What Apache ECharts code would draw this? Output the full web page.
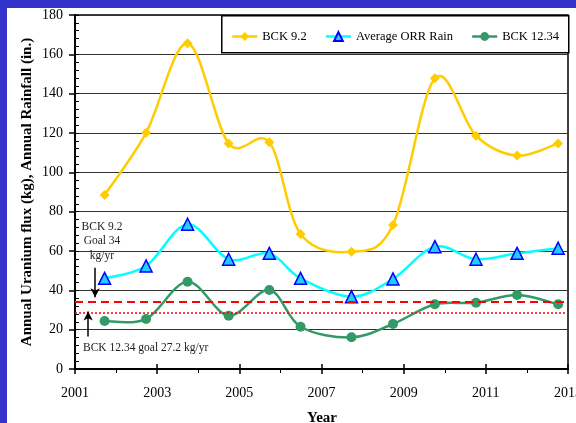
<!DOCTYPE html>
<html>
<head>
<meta charset="utf-8">
<script src="https://cdn.jsdelivr.net/npm/echarts@6/dist/echarts.min.js"></script>
<style>
html,body{margin:0;padding:0;}
#frame{position:absolute;left:0;top:0;width:576px;height:423px;background:#3333CC;}
#paper{position:absolute;left:7px;top:8px;width:569px;height:415px;background:#fff;}
#chart{position:absolute;left:0;top:0;width:576px;height:423px;}
</style>
</head>
<body>
<div id="frame"></div>
<div id="paper"></div>
<div id="chart"></div>
<script>
// ---- data ----
const years = [2001.72, 2002.73, 2003.74, 2004.74, 2005.73, 2006.49, 2007.73, 2008.74, 2009.76, 2010.76, 2011.76, 2012.76];
const bck92 = [88.5, 120.1, 165.6, 114.7, 115.3, 68.6, 59.6, 73.2, 147.8, 118.6, 108.5, 114.7];
const rain = [46.1, 52.4, 73.6, 55.8, 58.8, 46.1, 36.8, 45.8, 62.2, 55.8, 58.8, 61.4];
const bck1234 = [24.4, 25.4, 44.4, 27.1, 40.2, 21.5, 16.1, 22.9, 32.9, 33.7, 37.6, 32.9];
const seriesNames = ['BCK 9.2', 'Average ORR Rain', 'BCK 12.34'];
const seriesColors = ['#FFCC00', '#00FFFF', '#339966'];
const goalBck92 = 34;
const goalBck1234Line = 28.5;
const xTicks = [2001, 2003, 2005, 2007, 2009, 2011, 2013];
const yTicks = [0, 20, 40, 60, 80, 100, 120, 140, 160, 180];
// arrows (data coords): [x, yStart, yEnd]
const arrowDown = [2001.49, 51.5, 36.5];
const arrowUp = [2001.32, 16.5, 29.3];

const pair = (xs, ys) => xs.map((x, i) => [x, ys[i]]);
const FONT = '"Liberation Serif", "Times New Roman", serif';

const chart = echarts.init(document.getElementById('chart'), null, {renderer: 'canvas'});
const xMin = xTicks[0], xMax = xTicks[xTicks.length - 1];
const yMin = yTicks[0], yMax = yTicks[yTicks.length - 1];

// Excel-like smoothed curve (Catmull-Rom through the data points, via the axis scales)
function curveRenderer(ys, color) {
  return function (params, api) {
    if (params.dataIndex !== 0) return null;
    const pts = years.map((x, i) => api.coord([x, ys[i]]));
    let d = 'M' + pts[0][0] + ' ' + pts[0][1];
    for (let i = 0; i < pts.length - 1; i++) {
      const p0 = pts[i - 1] || pts[i], p1 = pts[i], p2 = pts[i + 1], p3 = pts[i + 2] || pts[i + 1];
      const c1x = p1[0] + (p2[0] - p0[0]) / 6, c1y = p1[1] + (p2[1] - p0[1]) / 6;
      const c2x = p2[0] - (p3[0] - p1[0]) / 6, c2y = p2[1] - (p3[1] - p1[1]) / 6;
      d += ' C' + c1x + ' ' + c1y + ' ' + c2x + ' ' + c2y + ' ' + p2[0] + ' ' + p2[1];
    }
    return {type: 'path', shape: {pathData: d}, style: {fill: 'none', stroke: color, lineWidth: 2.5}};
  };
}

const valueSets = [bck92, rain, bck1234];
const curveSeries = valueSets.map((ys, k) => ({
  name: '_curve' + k, type: 'custom', coordinateSystem: 'cartesian2d',
  data: pair(years, ys), encode: {x: 0, y: 1}, renderItem: curveRenderer(ys, seriesColors[k]),
  silent: true, z: 2
}));

const option = {
  backgroundColor: 'transparent',
  animation: false,
  grid: {left: 75, right: 8, top: 15, bottom: 54, containLabel: false, outerBoundsMode: 'none',
         show: true, borderColor: '#000', borderWidth: 1.5, backgroundColor: 'transparent'},
  legend: {
    data: seriesNames.map((n, k) => ({name: n, lineStyle: {color: seriesColors[k], width: 2.5, opacity: 1}})),
    left: 226, top: 25,
    itemWidth: 25, itemHeight: 11, itemGap: 18,
    textStyle: {fontFamily: FONT, fontSize: 12.5, color: '#000'},
    selectedMode: false
  },
  xAxis: [
    {
      type: 'value', min: xMin, max: xMax, interval: 2,
      axisLine: {show: true, onZero: false, lineStyle: {color: '#000', width: 2}},
      axisTick: {show: true, length: 5, lineStyle: {color: '#000', width: 1.5}},
      minorTick: {show: true, splitNumber: 2, length: 4, lineStyle: {color: '#000', width: 1}},
      axisLabel: {margin: 17, fontFamily: FONT, fontSize: 14, color: '#000', formatter: v => String(v), hideOverlap: false},
      splitLine: {show: false}
    },
    {
      type: 'value', min: xMin, max: xMax, interval: 2, position: 'bottom',
      axisLine: {show: false},
      axisTick: {show: true, inside: true, length: 5, lineStyle: {color: '#000', width: 1.5}},
      axisLabel: {show: false},
      splitLine: {show: false}
    }
  ],
  yAxis: [
    {
      type: 'value', min: yMin, max: yMax, interval: 20,
      axisLine: {show: true, onZero: false, lineStyle: {color: '#000', width: 2}},
      axisTick: {show: true, length: 6, lineStyle: {color: '#000', width: 1.5}},
      axisLabel: {margin: 12, fontFamily: FONT, fontSize: 14, color: '#000'},
      splitLine: {show: true, lineStyle: {color: '#333', width: 1}}
    },
    {
      type: 'value', min: yMin, max: yMax, interval: 20, position: 'left',
      axisLine: {show: false},
      axisTick: {show: true, inside: true, length: 4, lineStyle: {color: '#000', width: 1}},
      minorTick: {show: true, splitNumber: 5, length: 4, lineStyle: {color: '#000', width: 1}},
      axisLabel: {show: false},
      splitLine: {show: false}
    }
  ],
  series: curveSeries.concat([
    {
      name: seriesNames[0], type: 'line', data: pair(years, bck92), smooth: false,
      symbol: 'diamond', symbolSize: 10,
      lineStyle: {color: seriesColors[0], width: 2.5, opacity: 0},
      itemStyle: {color: '#FFCC00'}, z: 3
    },
    {
      name: seriesNames[1], type: 'line', data: pair(years, rain), smooth: false,
      symbol: 'triangle', symbolSize: 12,
      lineStyle: {color: seriesColors[1], width: 2.5, opacity: 0},
      itemStyle: {color: '#22CCFF', borderColor: '#0000FF', borderWidth: 1.5}, z: 4
    },
    {
      name: seriesNames[2], type: 'line', data: pair(years, bck1234), smooth: false,
      symbol: 'circle', symbolSize: 10,
      lineStyle: {color: seriesColors[2], width: 2.5, opacity: 0},
      itemStyle: {color: '#339966'}, z: 3,
      markLine: {
        silent: true, symbol: ['none', 'none'], label: {show: false},
        data: [
          {yAxis: goalBck92, lineStyle: {color: '#FF0000', type: [8, 5], width: 2, opacity: 1}},
          {yAxis: goalBck1234Line, lineStyle: {color: '#FF0000', type: [2, 2], width: 1.5, opacity: 1}}
        ]
      }
    },
    {
      name: 'arrows', type: 'line', data: [],
      markLine: {
        silent: true, symbol: ['none', 'arrow'], symbolSize: [7, 9], label: {show: false},
        lineStyle: {color: '#000', type: 'solid', width: 1.5},
        data: [
          [{coord: [arrowDown[0], arrowDown[1]]}, {coord: [arrowDown[0], arrowDown[2]]}],
          [{coord: [arrowUp[0], arrowUp[1]]}, {coord: [arrowUp[0], arrowUp[2]]}]
        ]
      }
    }
  ]),
  graphic: [
    {type: 'rect', left: 221, top: 15, shape: {width: 347, height: 37}, z: 1,
     style: {fill: '#fff', stroke: '#000', lineWidth: 1.5}},
    {type: 'text', x: 27, y: 192, rotation: Math.PI / 2, z: 10,
     style: {text: 'Annual Uranium flux (kg), Annual Rainfall (in.)', font: 'bold 15px ' + FONT, fill: '#000', textAlign: 'center', textVerticalAlign: 'middle'}},
    {type: 'text', x: 322, y: 418, z: 10,
     style: {text: 'Year', font: 'bold 15px ' + FONT, fill: '#000', textAlign: 'center', textVerticalAlign: 'middle'}},
    {type: 'text', x: 102, y: 227, z: 10,
     style: {text: 'BCK 9.2', font: '11.5px ' + FONT, fill: '#222', textAlign: 'center', textVerticalAlign: 'middle'}},
    {type: 'text', x: 102, y: 241, z: 10,
     style: {text: 'Goal 34', font: '11.5px ' + FONT, fill: '#222', textAlign: 'center', textVerticalAlign: 'middle'}},
    {type: 'text', x: 102, y: 256, z: 10,
     style: {text: 'kg/yr', font: '11.5px ' + FONT, fill: '#222', textAlign: 'center', textVerticalAlign: 'middle'}},
    {type: 'text', x: 83, y: 348, z: 10,
     style: {text: 'BCK 12.34 goal 27.2 kg/yr', font: '11.5px ' + FONT, fill: '#222', textAlign: 'left', textVerticalAlign: 'middle'}}
  ]
};
chart.setOption(option);
</script>
</body>
</html>
